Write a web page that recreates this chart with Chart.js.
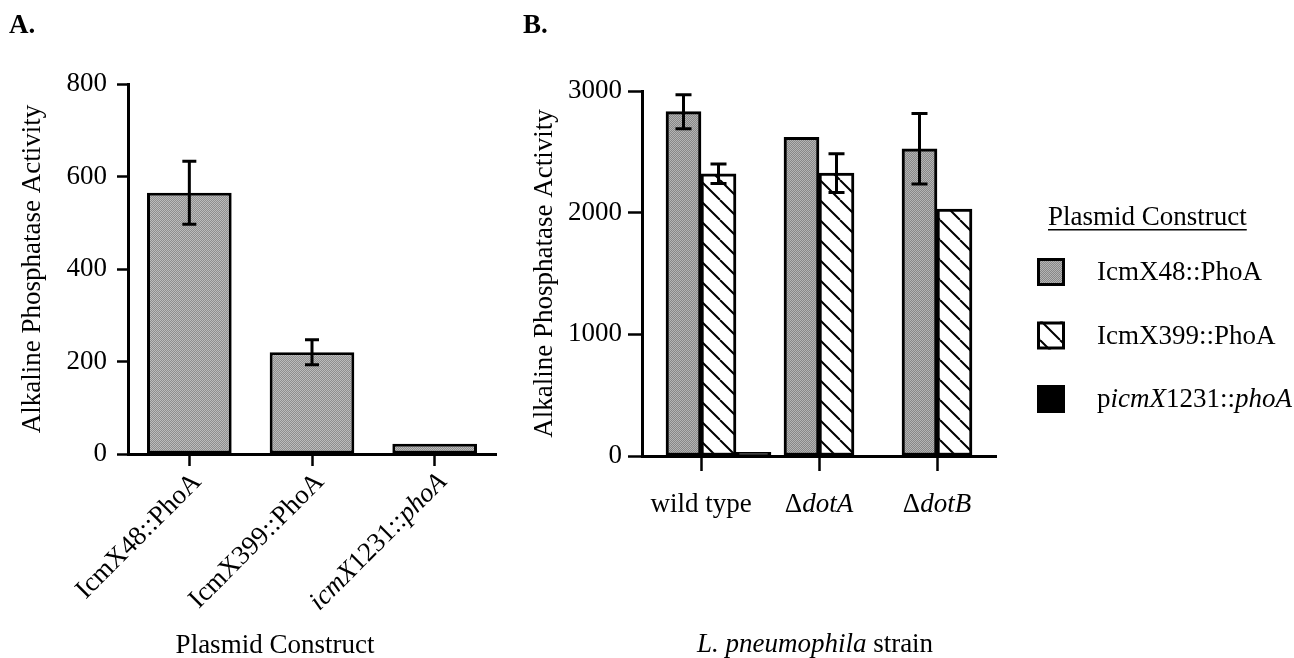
<!DOCTYPE html>
<html>
<head>
<meta charset="utf-8">
<script src="https://cdn.jsdelivr.net/npm/chart.js@4.4.1/dist/chart.umd.min.js"></script>
<style>
  html, body { margin: 0; padding: 0; background: #fff; }
  #wrap { position: relative; width: 1294px; height: 658px; overflow: hidden; }
  #chartA { position: absolute; left: 0; top: 0; }
  #chartB { position: absolute; left: 520px; top: 0; }
</style>
</head>
<body>
<div id="wrap">
  <canvas id="chartA" width="520" height="658"></canvas>
  <canvas id="chartB" width="774" height="658"></canvas>
</div>
<script>
// *text* marks the italic parts of a label

// panel A
const constructsA = ['IcmX48::PhoA', 'IcmX399::PhoA', '*icmX*1231::*phoA*'];
const activityA = [565, 220, 22];
const errorA = [68, 27, 0];
const ticksA = [0, 200, 400, 600, 800];

// panel B
const strainsB = ['wild type', 'Δ*dotA*', 'Δ*dotB*'];
const seriesNamesB = ['IcmX48::PhoA', 'IcmX399::PhoA', 'p*icmX*1231::*phoA*'];
const icmX48B = [2830, 2620, 2525];
const icmX48ErrB = [140, 0, 290];
const icmX399B = [2320, 2325, 2030];
const icmX399ErrB = [80, 160, 0];
const picmX1231B = [30, null, null];
const picmX1231ErrB = [0, 0, 0];
const ticksB = [0, 1000, 2000, 3000];

const FONT = "'Liberation Serif', 'Times New Roman', serif";
const FS = 27;
Chart.defaults.font.family = FONT;
Chart.defaults.color = '#000';

const plain = t => t.replace(/\*/g, '');

function drawRich(ctx, text, x, y, size, align) {
  const parts = text.split('*').map((t, i) => ({ t, it: i % 2 === 1 })).filter(p => p.t);
  let w = 0;
  parts.forEach(p => {
    ctx.font = (p.it ? 'italic ' : '') + size + 'px ' + FONT;
    p.w = ctx.measureText(p.t).width;
    w += p.w;
  });
  let cx = align === 'right' ? x - w : align === 'center' ? x - w / 2 : x;
  ctx.textAlign = 'left';
  parts.forEach(p => {
    ctx.font = (p.it ? 'italic ' : '') + size + 'px ' + FONT;
    ctx.fillText(p.t, cx, y);
    cx += p.w;
  });
  return w;
}

function checker(c1, c2) {
  const c = document.createElement('canvas');
  c.width = 2; c.height = 2;
  const g = c.getContext('2d');
  g.fillStyle = c1; g.fillRect(0, 0, 2, 2);
  g.fillStyle = c2; g.fillRect(0, 0, 1, 1); g.fillRect(1, 1, 1, 1);
  return g.createPattern(c, 'repeat');
}

function hatch() {
  const c = document.createElement('canvas');
  c.width = 20; c.height = 20;
  const g = c.getContext('2d');
  g.fillStyle = '#fff'; g.fillRect(0, 0, 20, 20);
  g.strokeStyle = '#000'; g.lineWidth = 2;
  g.beginPath();
  [-20, 0, 20].forEach(k => { g.moveTo(k, 0); g.lineTo(k + 20, 20); });
  g.stroke();
  return g.createPattern(c, 'repeat');
}

const grayA = checker('#8e8e8e', '#bcbcbc');
const grayB = checker('#878787', '#b4b4b4');
const hatchB = hatch();

const errorBars = {
  id: 'errorBars',
  afterDatasetsDraw(chart, args, opts) {
    const { ctx, scales: { y } } = chart;
    ctx.save();
    ctx.strokeStyle = '#000';
    ctx.lineWidth = 3;
    chart.data.datasets.forEach((ds, di) => {
      if (!ds.errors) return;
      const meta = chart.getDatasetMeta(di);
      ds.errors.forEach((e, i) => {
        const v = ds.data[i];
        if (!e || v == null) return;
        const x = meta.data[i].x;
        const top = y.getPixelForValue(v + e);
        const bot = y.getPixelForValue(v - e);
        ctx.beginPath();
        ctx.moveTo(x, top); ctx.lineTo(x, bot);
        ctx.moveTo(x - opts.cap, top); ctx.lineTo(x + opts.cap, top);
        ctx.moveTo(x - opts.cap, bot); ctx.lineTo(x + opts.cap, bot);
        ctx.stroke();
      });
    });
    ctx.restore();
  }
};

function yAxis(ticks, width, titlePad, tickPad, tickLen) {
  return {
    min: ticks[0],
    max: ticks[ticks.length - 1],
    afterBuildTicks: s => { s.ticks = ticks.map(v => ({ value: v })); },
    afterFit: s => { s.width = width; },
    ticks: { font: { size: FS }, color: '#000', padding: tickPad, callback: v => String(v) },
    grid: { drawOnChartArea: false, tickLength: tickLen, tickWidth: 2.5, tickColor: '#000' },
    border: { display: true, color: '#000', width: 3 },
    title: {
      display: true, text: 'Alkaline Phosphatase Activity', color: '#000',
      font: { size: FS }, padding: { top: titlePad, bottom: 0 }
    }
  };
}

function xAxis(height, tickLen) {
  return {
    afterFit: s => { s.height = height; },
    ticks: { display: false },
    grid: { drawOnChartArea: false, offset: false, tickLength: tickLen, tickWidth: 2.5, tickColor: '#000' },
    border: { display: true, color: '#000', width: 3 }
  };
}

const panelA = {
  id: 'panelA',
  afterDraw(chart) {
    const { ctx, chartArea, scales: { x } } = chart;
    ctx.save();
    ctx.fillStyle = '#000';
    ctx.textBaseline = 'middle';
    constructsA.forEach((label, i) => {
      const px = x.getPixelForValue(i);
      ctx.save();
      ctx.translate(px + 8, chartArea.bottom + 24);
      ctx.rotate(-Math.PI / 4);
      drawRich(ctx, label, 0, 0, FS, 'right');
      ctx.restore();
    });
    ctx.textBaseline = 'alphabetic';
    drawRich(ctx, 'Plasmid Construct', 275, 653, FS, 'center');
    ctx.font = 'bold ' + FS + 'px ' + FONT;
    ctx.fillText('A.', 9, 33);
    ctx.restore();
  }
};

const panelB = {
  id: 'panelB',
  afterDraw(chart) {
    const { ctx, chartArea, scales: { x } } = chart;
    ctx.save();
    ctx.fillStyle = '#000';
    ctx.textBaseline = 'alphabetic';
    strainsB.forEach((label, i) => {
      drawRich(ctx, label, x.getPixelForValue(i), chartArea.bottom + 56, FS, 'center');
    });
    drawRich(ctx, '*L. pneumophila* strain', 295, 652, FS, 'center');
    ctx.font = 'bold ' + FS + 'px ' + FONT;
    ctx.fillText('B.', 3, 33);

    // legend
    const w = drawRich(ctx, 'Plasmid Construct', 528, 225, FS, 'left');
    ctx.fillRect(528, 229, w, 1.5);
    chart.data.datasets.filter(ds => ds.label).forEach((ds, k) => {
      const cy = 272 + k * 63.5;
      ctx.fillStyle = ds.backgroundColor;
      ctx.fillRect(517, cy - 14, 28, 28);
      ctx.strokeStyle = '#000';
      ctx.lineWidth = 3;
      ctx.strokeRect(518.5, cy - 12.5, 25, 25);
      ctx.fillStyle = '#000';
      ctx.textBaseline = 'middle';
      drawRich(ctx, ds.label, 577, cy + 1, FS, 'left');
    });
    ctx.restore();
  }
};

new Chart(document.getElementById('chartA'), {
  type: 'bar',
  data: {
    labels: constructsA.map(plain),
    datasets: [{
      label: 'Plasmid Construct',
      data: activityA,
      errors: errorA,
      backgroundColor: grayA,
      borderColor: '#000',
      borderWidth: 3,
      borderSkipped: false,
      barPercentage: 0.69,
      categoryPercentage: 1
    }]
  },
  options: {
    responsive: false,
    animation: false,
    layout: { padding: { top: 84, right: 24, left: 0, bottom: 0 } },
    plugins: { legend: { display: false }, tooltip: { enabled: false }, errorBars: { cap: 7 } },
    scales: { x: xAxis(204, 12), y: yAxis(ticksA, 128, 17, 10, 11) }
  },
  plugins: [errorBars, panelA]
});

const barB = { borderColor: '#000', borderWidth: 3, borderSkipped: false, barThickness: 35 };

new Chart(document.getElementById('chartB'), {
  type: 'bar',
  data: {
    labels: strainsB.map(plain),
    datasets: [
      { label: '', data: strainsB.map(() => null) },
      Object.assign({ label: seriesNamesB[0], data: icmX48B, errors: icmX48ErrB, backgroundColor: grayB }, barB),
      Object.assign({ label: seriesNamesB[1], data: icmX399B, errors: icmX399ErrB, backgroundColor: hatchB }, barB),
      Object.assign({ label: seriesNamesB[2], data: picmX1231B, errors: picmX1231ErrB, backgroundColor: '#000' }, barB)
    ]
  },
  options: {
    responsive: false,
    animation: false,
    datasets: { bar: { barThickness: 35 } },
    layout: { padding: { top: 91, right: 298, left: 0, bottom: 0 } },
    plugins: { legend: { display: false }, tooltip: { enabled: false }, errorBars: { cap: 8 } },
    scales: { x: xAxis(202, 15), y: yAxis(ticksB, 122, 9, 6, 14) }
  },
  plugins: [errorBars, panelB]
});
</script>
</body>
</html>
